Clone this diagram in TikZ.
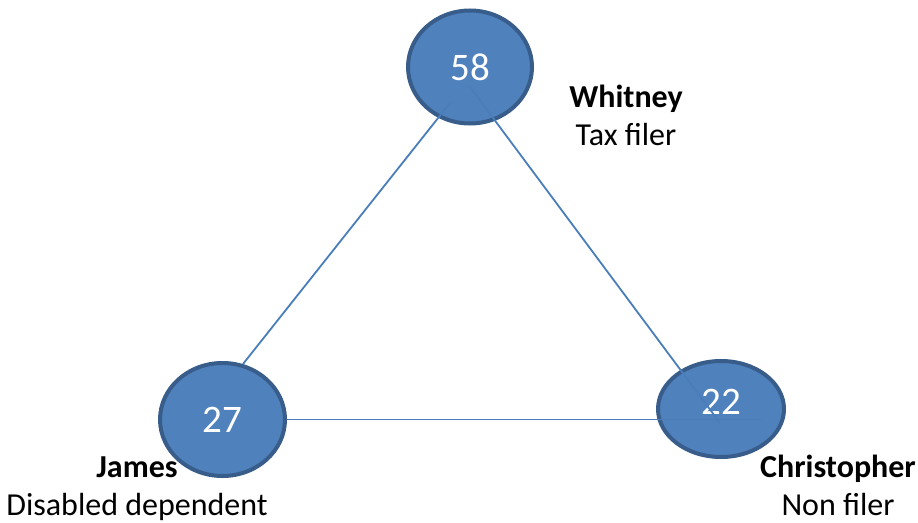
\documentclass[tikz,border=0pt]{standalone}
\usepackage{fontspec}
\setmainfont{Carlito}
\usetikzlibrary{shapes.geometric}
\definecolor{nodefill}{HTML}{4F81BD}
\definecolor{nodeedge}{HTML}{385D8A}
\definecolor{linkcol}{HTML}{4A7EBB}
\tikzset{
  person/.style={ellipse, draw=nodeedge, fill=nodefill, line width=4pt, inner sep=0pt,
    text=white, font=\fontsize{39}{46}\selectfont},
  link/.style={draw=linkcol, line width=1.8pt},
  role/.style={align=center, anchor=base, inner sep=0pt, font=\fontsize{32}{38}\selectfont}
}
\begin{document}
\begin{tikzpicture}[x=1pt,y=-1pt]
\useasboundingbox (0,0) rectangle (918,522);
\node[person, minimum width=124pt, minimum height=113pt] (t) at (470,67) {58};
\node[person, minimum width=125pt, minimum height=113pt] (l) at (222.5,419.5) {27};
\node[person, minimum width=126pt, minimum height=96pt, text height=10pt, text depth=0pt] (r) at (721,409) {22};
\coordinate (ta) at (450,103);
\coordinate (la) at (243,364);
\coordinate (tb) at (470,87);
\coordinate (rb) at (720,423);
\coordinate (rc) at (762,419.5);
\draw[link] (ta) -- (la);
\draw[link] (tb) -- (rb);
\draw[link] (l.east) -- (rc);
\node[role] (wl) at (626,145) {\textbf{Whitney}\\Tax filer};
\node[role] (jl) at (137,515) {\textbf{James}\\Disabled dependent};
\node[role] (cl) at (838,515) {\textbf{Christopher}\\Non filer};
\end{tikzpicture}
\end{document}
